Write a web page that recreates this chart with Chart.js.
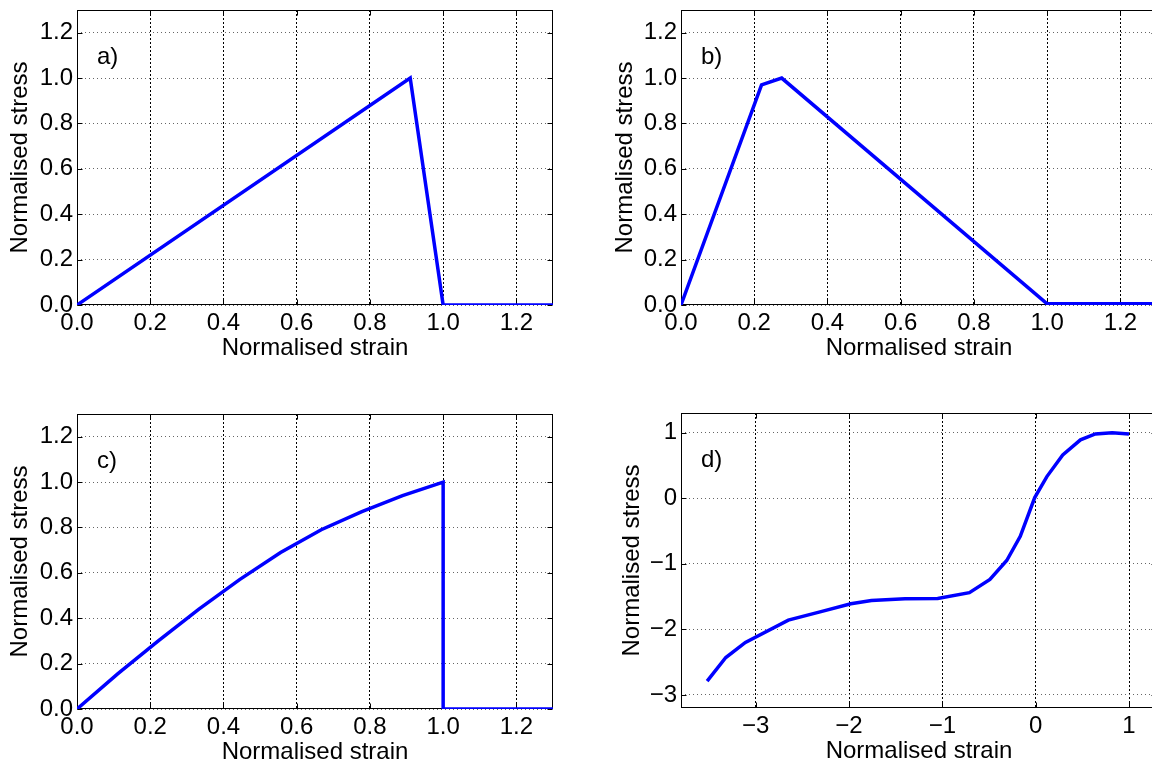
<!DOCTYPE html>
<html>
<head>
<meta charset="utf-8">
<script src="https://cdn.jsdelivr.net/npm/chart.js@4"></script>
<style>
  html, body { margin: 0; padding: 0; background: #fff; }
  body { width: 1152px; height: 762px; overflow: hidden; position: relative; }
  canvas { position: absolute; }
</style>
</head>
<body>
<canvas id="pa" width="576" height="365" style="left:0px;top:0px"></canvas>
<canvas id="pb" width="591" height="365" style="left:576px;top:0px"></canvas>
<canvas id="pc" width="576" height="365" style="left:0px;top:404px"></canvas>
<canvas id="pd" width="591" height="365" style="left:576px;top:403px"></canvas>
<script>
// a) linear softening
const strainA = [0, 0.91, 1.0, 1.3]
const stressA = [0, 1.0, 0, 0]

// b) early peak, long linear softening
const strainB = [0, 0.22, 0.275, 1.0, 1.3]
const stressB = [0, 0.97, 1.0, 0.005, 0.005]

// c) curved hardening, sudden drop
const strainC = [0, 0.111, 0.222, 0.333, 0.444, 0.556, 0.667, 0.778, 0.889, 1.0, 1.0, 1.3]
const stressC = [0, 0.155, 0.30, 0.44, 0.57, 0.69, 0.79, 0.87, 0.94, 1.0, 0, 0]

// d) tension / compression curve
const strainD = [-3.52, -3.32, -3.11, -2.65, -2.3, -1.98, -1.76, -1.4, -1.05, -0.71, -0.49, -0.31, -0.165, -0.01, 0.12, 0.29, 0.48, 0.64, 0.82, 1.0]
const stressD = [-2.79, -2.43, -2.2, -1.86, -1.73, -1.61, -1.56, -1.535, -1.53, -1.44, -1.24, -0.95, -0.58, 0.01, 0.33, 0.66, 0.89, 0.98, 1.0, 0.98]

const ticksAC = [0, 0.2, 0.4, 0.6, 0.8, 1.0, 1.2]
const ticksDx = [-3, -2, -1, 0, 1]
const ticksDy = [-3, -2, -1, 0, 1]

const FONT = '"Liberation Sans", Arial, Helvetica, sans-serif'
Chart.defaults.font.family = FONT
Chart.defaults.font.size = 24
Chart.defaults.color = '#000'

// box round the plot, inward ticks, and the panel letter
const frame = {
  id: 'frame',
  beforeDatasetsDraw: function (chart, args, opts) {
    const ctx = chart.ctx
    const a = chart.chartArea
    const l = Math.round(a.left) + 0.5
    const t = Math.round(a.top) + 0.5
    const r = Math.round(a.right) - 0.5
    const b = Math.round(a.bottom) - 0.5
    ctx.save()
    ctx.strokeStyle = '#000'
    ctx.lineWidth = 1
    ctx.setLineDash([])
    ctx.strokeRect(l, t, r - l, b - t)
    ctx.beginPath()
    chart.scales.x.ticks.forEach(function (tk) {
      const px = Math.round(chart.scales.x.getPixelForValue(tk.value)) + 0.5
      ctx.moveTo(px, b); ctx.lineTo(px, b - 5)
      ctx.moveTo(px, t); ctx.lineTo(px, t + 5)
    })
    chart.scales.y.ticks.forEach(function (tk) {
      const py = Math.round(chart.scales.y.getPixelForValue(tk.value)) + 0.5
      ctx.moveTo(l, py); ctx.lineTo(l + 5, py)
      ctx.moveTo(r, py); ctx.lineTo(r - 5, py)
    })
    ctx.stroke()
    ctx.font = '24px ' + FONT
    ctx.fillStyle = '#000'
    ctx.textBaseline = 'middle'
    ctx.textAlign = 'left'
    ctx.fillText(opts.letter, a.left + 20, a.top + 47)
    ctx.restore()
  }
}

function fixSize (prop, size) {
  return function (scale) {
    scale[prop] = size
    scale.paddingLeft = 0
    scale.paddingRight = 0
    scale.paddingTop = 0
    scale.paddingBottom = 0
  }
}

function panel (id, letter, strain, stress, o) {
  const pts = strain.map(function (x, i) { return { x: x, y: stress[i] } })
  return new Chart(document.getElementById(id).getContext('2d'), {
    type: 'line',
    data: {
      datasets: [{
        data: pts,
        borderColor: '#0000ff',
        borderWidth: 3.5,
        pointRadius: 0,
        tension: 0,
        fill: false
      }]
    },
    plugins: [frame],
    options: {
      responsive: false,
      animation: false,
      events: [],
      layout: { padding: { top: 10, right: o.padRight, left: 0, bottom: 0 } },
      plugins: {
        legend: { display: false },
        tooltip: { enabled: false },
        frame: { letter: letter }
      },
      scales: {
        x: {
          type: 'linear',
          min: o.xmin,
          max: o.xmax,
          afterFit: fixSize('height', 60),
          afterBuildTicks: function (s) { s.ticks = o.xticks.map(function (v) { return { value: v } }) },
          ticks: {
            padding: 4,
            maxRotation: 0,
            autoSkip: false,
            callback: o.fmt
          },
          grid: { color: '#000', lineWidth: 1, drawTicks: false },
          border: { display: false, dash: [2, 2] },
          title: {
            display: true,
            text: 'Normalised strain',
            font: { size: 24 },
            padding: { top: 0, bottom: 2 }
          }
        },
        y: {
          type: 'linear',
          min: o.ymin,
          max: o.ymax,
          afterFit: fixSize('width', o.yWidth),
          afterBuildTicks: function (s) { s.ticks = o.yticks.map(function (v) { return { value: v } }) },
          ticks: {
            padding: 4,
            autoSkip: false,
            callback: o.fmt
          },
          grid: { color: '#666', lineWidth: 1, drawTicks: false },
          border: { display: false, dash: [1, 3] },
          title: {
            display: true,
            text: 'Normalised stress',
            font: { size: 24 },
            padding: { top: o.titlePad, bottom: 0 }
          }
        }
      }
    }
  })
}

const oneDecimal = function (v) { return Number(v).toFixed(1) }
const intMinus = function (v) { return String(Math.round(v)).replace('-', '\u2212') }

panel('pa', 'a)', strainA, stressA, {
  xmin: 0, xmax: 1.3, ymin: 0, ymax: 1.3, xticks: ticksAC, yticks: ticksAC,
  fmt: oneDecimal, yWidth: 77, padRight: 23, titlePad: 6
})
panel('pb', 'b)', strainB, stressB, {
  xmin: 0, xmax: 1.3, ymin: 0, ymax: 1.3, xticks: ticksAC, yticks: ticksAC,
  fmt: oneDecimal, yWidth: 105, padRight: 10, titlePad: 35
})
panel('pc', 'c)', strainC, stressC, {
  xmin: 0, xmax: 1.3, ymin: 0, ymax: 1.3, xticks: ticksAC, yticks: ticksAC,
  fmt: oneDecimal, yWidth: 77, padRight: 23, titlePad: 6
})
panel('pd', 'd)', strainD, stressD, {
  xmin: -3.8, xmax: 1.3, ymin: -3.2, ymax: 1.3, xticks: ticksDx, yticks: ticksDy,
  fmt: intMinus, yWidth: 105, padRight: 10, titlePad: 42
})
</script>
</body>
</html>
